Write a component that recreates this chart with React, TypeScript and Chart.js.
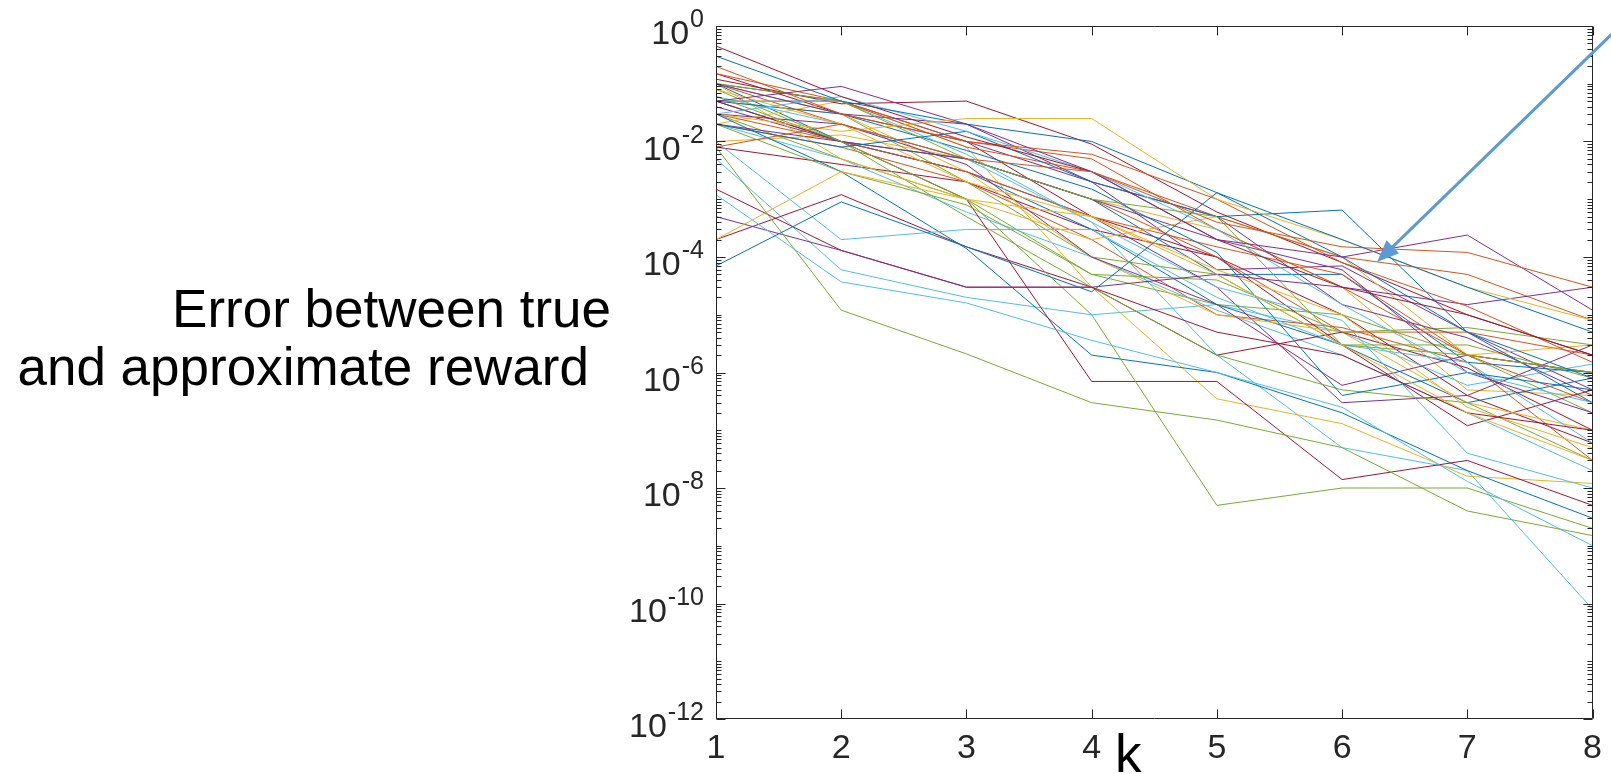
import React, { useEffect, useRef } from "react";
import { Chart, registerables } from "chart.js";

Chart.register(...registerables);

const kValues = [1, 2, 3, 4, 5, 6, 7, 8];

const yTickExponents = [-12, -10, -8, -6, -4, -2, 0];

const yTitleLines = ["Error between true", "and approximate reward"];
const xTitle = "k";

const matlabColors = ["#0072BD", "#D95319", "#EDB120", "#7E2F8E", "#77AC30", "#4DBEEE", "#A2142F"];

// error per run, one row per run, values at k = 1..8
const errorRuns: number[][] = [
  [7e-5, 9e-4, 1.5e-4, 2.5e-5, 1.3e-3, 2e-4, 3e-5, 5e-6],
  [8e-3, 2e-2, 5e-3, 3e-3, 4e-4, 1.5e-4, 1.2e-4, 3e-5],
  [3e-2, 1.5e-2, 2.5e-2, 2.5e-2, 1e-3, 2e-4, 3e-5, 8e-6],
  [5e-2, 9e-2, 2e-2, 3e-3, 2e-4, 1e-4, 2.4e-4, 1.2e-5],
  [8e-3, 1.2e-5, 2.1e-6, 3e-7, 1.5e-7, 5e-8, 4e-9, 1.5e-9],
  [1.2e-3, 3.7e-5, 1.6e-5, 3.6e-6, 1e-6, 2.5e-7, 1.3e-8, 1e-9],
  [0.45, 6e-2, 1.2e-2, 3e-3, 2e-4, 3e-5, 1e-5, 2e-6],
  [0.3, 5e-2, 2e-2, 1e-2, 1.3e-3, 1e-4, 5e-6, 8e-7],
  [0.2, 3e-2, 1e-2, 6e-3, 1e-3, 8e-5, 1.4e-5, 1.5e-6],
  [2e-4, 3e-3, 1e-3, 5e-4, 5e-5, 3e-6, 2e-7, 3e-8],
  [5e-4, 1.3e-4, 3e-5, 3e-5, 5e-5, 3e-5, 1.5e-5, 3e-5],
  [0.1, 5e-2, 5e-3, 1e-3, 5e-4, 3e-6, 2e-6, 1e-6],
  [3e-2, 6e-2, 1.5e-2, 3e-3, 3e-4, 1.5e-5, 1e-6, 3e-7],
  [1.5e-3, 1.3e-4, 3e-5, 3e-5, 5e-6, 2e-6, 2e-7, 1e-7],
  [2e-2, 8e-3, 1.5e-2, 2e-3, 5e-4, 6.5e-4, 5e-6, 3e-7],
  [0.15, 5e-2, 8e-3, 3e-3, 5e-4, 1e-4, 5e-5, 8e-6],
  [8e-2, 2e-2, 2e-3, 5e-4, 6e-5, 1e-5, 2.5e-7, 5e-8],
  [0.1, 3e-2, 2e-2, 2e-3, 5e-4, 1.5e-5, 4e-6, 4e-7],
  [6e-2, 1e-2, 1e-3, 1e-5, 5e-9, 1e-8, 1e-8, 2e-9],
  [5e-2, 5e-2, 6e-3, 4e-4, 3e-5, 8e-6, 4e-8, 1e-8],
  [0.12, 4.5e-2, 5e-2, 9e-3, 6e-4, 8e-5, 1e-5, 2e-6],
  [5e-2, 3e-2, 7e-3, 1.5e-3, 1.2e-4, 4e-7, 1e-6, 5e-7],
  [5e-2, 5e-2, 1e-2, 5e-3, 3e-4, 3e-5, 2e-6, 1e-6],
  [0.1, 5e-3, 1e-3, 2e-4, 5e-4, 1e-4, 2e-6, 3e-6],
  [2e-2, 1e-2, 5e-3, 1e-3, 2e-4, 6e-5, 1e-6, 2e-7],
  [2e-2, 3e-3, 8e-4, 5e-5, 4e-5, 5e-6, 6e-6, 3e-6],
  [1e-2, 2e-4, 3e-4, 3e-4, 2e-5, 3e-6, 1.5e-6, 6e-8],
  [5e-2, 1e-2, 1e-3, 7e-7, 7e-7, 1.4e-8, 3e-8, 5e-9],
  [3e-2, 3e-3, 1.4e-4, 2e-6, 1e-6, 2e-7, 2e-8, 3e-9],
  [3e-2, 1e-2, 3e-3, 5e-4, 1.5e-4, 5e-5, 2e-6, 3e-7],
  [2e-2, 5e-2, 8e-3, 3e-5, 3.5e-7, 1.3e-7, 1.6e-8, 1.2e-8],
  [3e-2, 2e-2, 4e-3, 1e-4, 1.5e-5, 6e-7, 2e-6, 1e-6],
  [8e-2, 1e-2, 5e-4, 3e-5, 2e-6, 5e-7, 3e-7, 3e-8],
  [6e-2, 2e-2, 5e-3, 4e-4, 2e-6, 5e-8, 2e-8, 8e-11],
  [2e-4, 1.2e-3, 1.5e-4, 3e-5, 2e-6, 5e-6, 1.2e-6, 1e-7],
  [0.1, 1e-2, 5e-3, 1e-3, 5e-5, 5e-5, 1.5e-6, 1e-6],
  [0.1, 2e-2, 5e-3, 1e-3, 1e-4, 5e-6, 5e-6, 2e-6],
  [5e-2, 3e-2, 3e-3, 1e-4, 1e-5, 5e-6, 3e-7, 1e-7],
  [4e-2, 1e-2, 3e-3, 5e-4, 3e-5, 3e-7, 4e-7, 3e-6],
  [0.1, 3e-2, 2e-3, 1e-4, 5e-5, 3e-6, 3e-6, 8e-7],
  [2e-2, 5e-3, 6e-4, 1e-4, 1.2e-5, 2e-6, 2e-7, 2e-8],
  [0.15, 3e-2, 1e-2, 5e-4, 1e-4, 3e-6, 1.2e-7, 5e-7],
  [5e-2, 1e-2, 3e-3, 3e-4, 1.5e-5, 3e-6, 3e-7, 8e-7],
  [2e-2, 8e-3, 2e-3, 2e-4, 1e-5, 6e-6, 1.5e-6, 3e-8],
  [1e-2, 1.3e-2, 5e-3, 1e-3, 3e-4, 3e-5, 5e-7, 4e-7],
  [0.1, 5e-2, 1e-2, 2e-3, 6e-5, 7e-5, 5e-6, 5e-7],
  [3e-2, 5e-3, 1e-3, 5e-5, 1.5e-5, 1e-5, 2e-6, 2e-7],
  [5e-3, 6e-5, 2e-5, 1e-5, 1.5e-5, 5e-6, 6e-7, 1.4e-6],
  [8e-3, 4e-3, 2e-3, 3e-4, 1e-4, 1e-5, 4e-7, 6e-8],
];

// annotation arrow: from (off-canvas top right) to tip, in pixels of the figure
const arrowStart = { x: 1616, y: 30 };
const arrowTip = { x: 1377, y: 262 };

const FONT = "'Liberation Sans', Arial, Helvetica, sans-serif";
const AXIS_COLOR = "#262626";

const matlabPlugin = {
  id: "matlabBox",
  afterDraw(chart: any) {
    const { ctx, chartArea: a, scales } = chart;
    const xs = scales.x;
    const ys = scales.y;
    const L = Math.round(a.left) + 0.5;
    const R = Math.round(a.right) - 0.5;
    const T = Math.round(a.top) + 0.5;
    const B = Math.round(a.bottom) - 0.5;
    ctx.save();
    ctx.strokeStyle = AXIS_COLOR;
    ctx.lineWidth = 1;
    ctx.beginPath();
    ctx.rect(L, T, R - L, B - T);
    ctx.stroke();

    // y ticks (major at even exponents, minor elsewhere)
    ctx.beginPath();
    for (let e = -12; e <= 0; e++) {
      const y = Math.round(ys.getPixelForValue(Math.pow(10, e))) + 0.5;
      const len = e % 2 === 0 ? 9 : 5;
      ctx.moveTo(L, y); ctx.lineTo(L + len, y);
      ctx.moveTo(R, y); ctx.lineTo(R - len, y);
      if (e < 0) {
        for (let m = 2; m <= 9; m++) {
          const ym = Math.round(ys.getPixelForValue(m * Math.pow(10, e))) + 0.5;
          ctx.moveTo(L, ym); ctx.lineTo(L + 5, ym);
          ctx.moveTo(R, ym); ctx.lineTo(R - 5, ym);
        }
      }
    }
    // x ticks
    for (const k of kValues) {
      const x = Math.round(xs.getPixelForValue(k)) + 0.5;
      ctx.moveTo(x, B); ctx.lineTo(x, B - 9);
      ctx.moveTo(x, T); ctx.lineTo(x, T + 9);
    }
    ctx.stroke();

    // y tick labels 10^e
    ctx.fillStyle = AXIS_COLOR;
    ctx.textBaseline = "alphabetic";
    ctx.textAlign = "left";
    const rightEdge = 704;
    for (const e of yTickExponents) {
      const y = ys.getPixelForValue(Math.pow(10, e));
      const supText = e === 0 ? "0" : "-" + String(Math.abs(e));
      ctx.font = `25px ${FONT}`;
      const supW = ctx.measureText(supText).width;
      ctx.font = `34px ${FONT}`;
      const baseW = ctx.measureText("10").width;
      const x0 = rightEdge - supW - baseW - 1;
      ctx.fillText("10", x0, y + 18);
      ctx.font = `25px ${FONT}`;
      ctx.fillText(supText, x0 + baseW + 1, y + 1);
    }

    // y title
    ctx.fillStyle = "#000000";
    ctx.font = `53px ${FONT}`;
    ctx.textAlign = "right";
    ctx.fillText(yTitleLines[0], 611, 327);
    ctx.fillText(yTitleLines[1], 589, 385);
    // x title
    ctx.textAlign = "left";
    ctx.fillText(xTitle, 1115, 772);

    // arrow
    const dx = arrowTip.x - arrowStart.x;
    const dy = arrowTip.y - arrowStart.y;
    const len = Math.hypot(dx, dy);
    const ux = dx / len, uy = dy / len;
    const headLen = 22, headHalf = 9;
    const bx = arrowTip.x - ux * headLen;
    const by = arrowTip.y - uy * headLen;
    ctx.strokeStyle = "#5B9BD5";
    ctx.fillStyle = "#5B9BD5";
    ctx.lineWidth = 3;
    ctx.beginPath();
    ctx.moveTo(arrowStart.x, arrowStart.y);
    ctx.lineTo(bx + ux * 2, by + uy * 2);
    ctx.stroke();
    ctx.beginPath();
    ctx.moveTo(arrowTip.x, arrowTip.y);
    ctx.lineTo(bx - uy * headHalf, by + ux * headHalf);
    ctx.lineTo(bx + uy * headHalf, by - ux * headHalf);
    ctx.closePath();
    ctx.fill();
    ctx.restore();
  },
};

export default function App() {
  const canvasRef = useRef<HTMLCanvasElement | null>(null);

  useEffect(() => {
    if (!canvasRef.current) return;
    const datasets = errorRuns.map((run, i) => ({
      label: `run ${i + 1}`,
      data: kValues.map((k, j) => ({ x: k, y: run[j] })),
      borderColor: matlabColors[i % matlabColors.length],
      backgroundColor: matlabColors[i % matlabColors.length],
      borderWidth: 1,
      pointRadius: 0,
      tension: 0,
      fill: false,
    }));
    const chart = new Chart(canvasRef.current, {
      type: "line",
      data: { datasets },
      options: {
        animation: false,
        responsive: false,
        devicePixelRatio: 1,
        layout: { padding: { left: 0, top: 26, right: 16, bottom: 0 } },
        plugins: { legend: { display: false }, tooltip: { enabled: false } },
        scales: {
          x: {
            type: "linear",
            min: 1,
            max: 8,
            grid: { display: false, drawTicks: false },
            border: { display: false },
            ticks: {
              stepSize: 1,
              padding: 9,
              color: AXIS_COLOR,
              font: { family: FONT, size: 34 },
              maxRotation: 0,
            },
            afterFit: (s: any) => { s.height = 55; },
          },
          y: {
            type: "logarithmic",
            min: 1e-12,
            max: 1,
            grid: { display: false, drawTicks: false },
            border: { display: false },
            ticks: { display: false },
            afterFit: (s: any) => { s.width = 716; },
          },
        },
      },
      plugins: [matlabPlugin],
    });
    return () => chart.destroy();
  }, []);

  return (
    <div style={{ position: "fixed", left: 0, top: 0, width: 1611, height: 774, background: "#ffffff" }}>
      <canvas ref={canvasRef} width={1611} height={774} style={{ display: "block" }} />
    </div>
  );
}
